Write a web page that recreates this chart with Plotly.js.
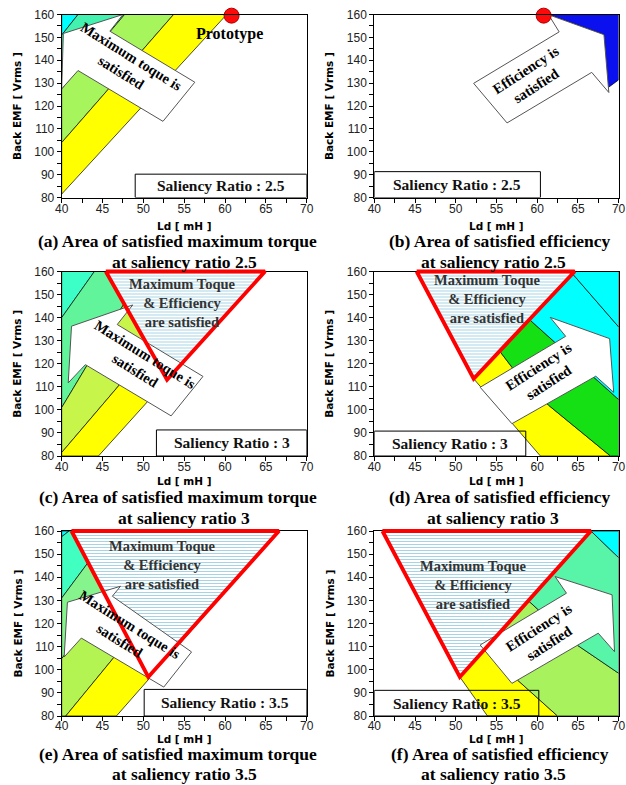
<!DOCTYPE html>
<html><head><meta charset="utf-8">
<script src="https://cdn.plot.ly/plotly-3.0.1.min.js"></script>
<style>html,body{margin:0;padding:0;background:#fff;}#chart{width:626px;height:785px;}</style>
</head><body><div id="chart"></div>
<script>
// ---------------- tick labels & texts ----------------
const xTickVals = [40, 45, 50, 55, 60, 65, 70];
const yTickVals = [80, 90, 100, 110, 120, 130, 140, 150, 160];
const xTitleText = 'Ld [ mH ]';
const yTitleText = 'Back EMF [ Vrms ]';
const captionLine1 = [
  '(a) Area of satisfied maximum torque', '(b) Area of satisfied efficiency',
  '(c) Area of satisfied maximum torque', '(d) Area of satisfied efficiency',
  '(e) Area of satisfied maximum torque', '(f) Area of satisfied efficiency'
];
const captionLine2 = [
  'at saliency ratio 2.5', 'at saliency ratio 2.5', 'at saliency ratio 3',
  'at saliency ratio 3', 'at saliency ratio 3.5', 'at saliency ratio 3.5'
];
const ratioLabels = ['Saliency Ratio : 2.5', 'Saliency Ratio : 2.5', 'Saliency Ratio : 3',
                     'Saliency Ratio : 3', 'Saliency Ratio : 3.5', 'Saliency Ratio : 3.5'];
const torqueArrowLabel = 'Maximum toque is<br>satisfied';
const effArrowLabel = 'Efficiency is<br>satisfied';
const bothLabel = 'Maximum Toque<br>& Efficiency<br>are satisfied';
const prototypeLabel = 'Prototype';

// ---------------- prototype point (Ld, EMF) ----------------
const protoLd = [60.8];
const protoEmf = [159.5];

// ---------------- panel (a) : saliency 2.5, torque ----------------
const a_cyan_x = [40, 40, 42];            const a_cyan_y = [151, 160, 160];
const a_turq_x = [40, 40, 42, 47.7];      const a_turq_y = [127.5, 151, 160, 160];
const a_lgreen_x = [40, 40, 47.7, 53.7];  const a_lgreen_y = [104, 127.5, 160, 160];
const a_yellow_x = [40, 40, 53.7, 60.2];  const a_yellow_y = [81.5, 104, 160, 160];
const a_arrow_x = [40.2, 47.5, 45.9, 56.3, 52.4, 42.0, 40.0];
const a_arrow_y = [151.7, 160, 152.7, 130.4, 113.3, 135.5, 127.5];

// ---------------- panel (b) : saliency 2.5, efficiency ----------------
const b_blue_x = [61.4, 70, 70, 68.7, 68.2];  const b_blue_y = [160, 160, 131.4, 128, 151.2];
const b_arrow_x = [61.4, 68.2, 68.8, 66.7, 56.3, 52.2, 62.7];
const b_arrow_y = [159.9, 151.2, 125.9, 134.7, 112.6, 129.9, 152.4];

// ---------------- panel (c) : saliency 3, torque ----------------
const c_turq_x = [40, 40, 44];               const c_turq_y = [140, 160, 160];
const c_spring_x = [40, 40, 44, 50];         const c_spring_y = [101, 140, 160, 160];
const c_ygreen_x = [40, 40, 50, 58.9];       const c_ygreen_y = [81.5, 101, 160, 160];
const c_yellow_x = [40, 40, 58.9, 64.9, 44.5]; const c_yellow_y = [80, 81.5, 160, 160, 80];
const c_arrow_x = [41.2, 48.7, 46.8, 57.3, 53.4, 42.9, 40.8];
const c_arrow_y = [136.3, 145.5, 137.0, 114.5, 97.4, 119.6, 111.7];
const c_tri_x = [45.4, 64.9, 52.9];          const c_tri_y = [160, 160, 113.1];

// ---------------- panel (d) : saliency 3, efficiency ----------------
const d_yellow_x = [45.9, 49.6, 55.5, 56.9, 61.4, 69, 60.4, 57.1, 52.2];
const d_yellow_y = [160, 160, 125, 118.5, 102, 80, 80, 93.3, 113.5];
const d_green_x = [49.6, 53.3, 59.2, 70, 70, 69, 61.4, 56.9, 55.5];
const d_green_y = [160, 160, 138.7, 104.5, 80, 80, 102, 118.5, 125];
const d_cyan1_x = [53.3, 64.1, 70, 70, 59.2];  const d_cyan1_y = [160, 160, 136, 104.5, 138.7];
const d_cyan2_x = [64.1, 70, 70];              const d_cyan2_y = [160, 160, 136];
const d_arrow_x = [61.6, 68.9, 69.4, 67.2, 56.9, 53.0, 63.5];
const d_arrow_y = [140.1, 130.9, 107.6, 114.6, 94.0, 109.8, 131.9];
const d_tri_x = [45.2, 64.6, 52.2];            const d_tri_y = [160, 160, 113.5];

// ---------------- panel (e) : saliency 3.5, torque ----------------
const e_cyan_x = [40, 40, 40.9];               const e_cyan_y = [157.5, 160, 160];
const e_turq_x = [40, 40, 40.9, 46.1];         const e_turq_y = [131, 157.5, 160, 160];
const e_lgreen_x = [40, 40, 46.1, 52.3];       const e_lgreen_y = [104.8, 131, 160, 160];
const e_ygreen_x = [40, 40.5, 59.1, 52.3, 40]; const e_ygreen_y = [80, 80, 160, 160, 104.8];
const e_yellow_x = [40.5, 46.7, 66.6, 59.1];   const e_yellow_y = [80, 80, 160, 160];
const e_arrow_x = [40.7, 47.2, 46.2, 55.9, 52.5, 42.4, 40.3];
const e_arrow_y = [129.2, 136.1, 131.8, 107.7, 92.5, 113.7, 105.5];
const e_tri_x = [41.2, 66.6, 50.6];            const e_tri_y = [160, 160, 96.9];

// ---------------- panel (f) : saliency 3.5, efficiency ----------------
const f_yellow_x = [50.5, 53.45, 62.5, 53.9];  const f_yellow_y = [96.9, 108.6, 80, 80];
const f_lgreen_x = [53.45, 58.9, 64.9, 70, 70, 62.5]; const f_lgreen_y = [108.6, 129.9, 110.7, 98.5, 80, 80];
const f_teal_x = [58.9, 66.6, 70, 70, 64.9];   const f_teal_y = [129.9, 160, 148.5, 98.5, 110.7];
const f_cyan_x = [66.6, 70, 70];               const f_cyan_y = [160, 160, 148.5];
const f_arrow_x = [62.2, 69.2, 69.5, 67.5, 56.9, 53.0, 63.6];
const f_arrow_y = [140.3, 132.4, 107.8, 115.8, 94.1, 110.7, 133.1];
const f_tri_x = [41.0, 66.6, 50.5];            const f_tri_y = [160, 160, 96.9];

// ---------------- styles ----------------
const COL = {
  cyan: '#00ffff', turqA: '#44f2b0', lgreenA: '#a6f55c', yellow: '#ffff00', blue: '#0a10ee',
  turqC: '#3cffc8', springC: '#62f49a', ygreenC: '#c8f54a', greenD: '#14e014',
  turqE: '#40ffc0', lgreenE: '#86f48c', ygreenE: '#b4f452', tealF: '#58f5a8', lgreenF: '#a8f25e'
};
const W = 626, H = 785;
const colPx = [[61.7, 306.7], [374.3, 618.6]];
const rowPx = [[14.5, 197.5], [271.5, 456], [531, 716]];
const xTitlePx = [226, 481, 739];
const tickStandoff = [-4, -4, -5];
const cap1Px = [241, 497, 754];
const cap2Px = [262, 518, 774];
const yTitlePx = [17, 329];
const cap1XPx = [178, 500];
const cap2XPx = [184, 493];
const OVERPAD = 4;   // px: extra room so the thick red outline is not clipped at the frame

// positions of in-plot texts / boxes (data units)
const boxes = [[49, 70, 80, 90.2], [40, 60.4, 80, 91.3], [51.6, 70, 80, 91.3],
               [40, 58.6, 80, 90.8], [50.1, 70, 80, 91.5], [40, 60.2, 80, 91.1]];
const arrowTextPos = [[47.9, 138], [59.3, 132.5], [49.6, 120.5], [60.8, 115.2], [47.7, 116.3], [60.8, 115]];
const arrowTextAng = [32, -33, 32, -33, 32, -33];
const bothTextPos = [null, null, [54.8, 146.5], [53.9, 148.1], [52.4, 145.5], [52.2, 136.5]];

// ---------------- build ----------------
const traces = [];
function ax(i) { return i === 0 ? '' : String(i + 1); }
function ovx(i) { return String(i + 7); }
function ring(a) { return a.concat([a[0]]); }
function poly(i, xs, ys, color) {
  traces.push({type: 'scatter', mode: 'lines', x: ring(xs), y: ring(ys), fill: 'toself',
    fillcolor: color, line: {color: '#000', width: 0.7}, xaxis: 'x' + ax(i), yaxis: 'y' + ax(i),
    hoverinfo: 'skip', showlegend: false});
}
function hatch(i, xs, ys) {
  traces.push({type: 'scatter', mode: 'lines', x: ring(xs), y: ring(ys), fill: 'toself',
    fillcolor: '#ffffff',
    fillpattern: {shape: '-', size: 3, solidity: 0.34, fgcolor: '#a6d4e4', bgcolor: '#ffffff'},
    line: {width: 0, color: 'rgba(0,0,0,0)'}, xaxis: 'x' + ax(i), yaxis: 'y' + ax(i),
    hoverinfo: 'skip', showlegend: false});
}
function arrow(i, xs, ys) {
  traces.push({type: 'scatter', mode: 'lines', x: ring(xs), y: ring(ys), fill: 'toself',
    fillcolor: '#ffffff', line: {color: '#555', width: 1}, xaxis: 'x' + ax(i), yaxis: 'y' + ax(i),
    hoverinfo: 'skip', showlegend: false});
}
function redTri(i, xs, ys) {
  // drawn on an invisible overlay axis pair with identical data->pixel mapping but a slightly larger clip area
  traces.push({type: 'scatter', mode: 'lines', x: ring(xs), y: ring(ys),
    line: {color: '#ff0000', width: 3.8}, xaxis: 'x' + ovx(i), yaxis: 'y' + ovx(i),
    hoverinfo: 'skip', showlegend: false});
}
function proto(i) {
  traces.push({type: 'scatter', mode: 'markers', x: protoLd, y: protoEmf, cliponaxis: false,
    marker: {size: 15, color: '#ff0a0a', line: {color: '#b00000', width: 1}},
    xaxis: 'x' + ax(i), yaxis: 'y' + ax(i), hoverinfo: 'skip', showlegend: false});
}

// (a)
poly(0, a_cyan_x, a_cyan_y, COL.cyan);
poly(0, a_turq_x, a_turq_y, COL.turqA);
poly(0, a_lgreen_x, a_lgreen_y, COL.lgreenA);
poly(0, a_yellow_x, a_yellow_y, COL.yellow);
arrow(0, a_arrow_x, a_arrow_y);
proto(0);
// (b)
poly(1, b_blue_x, b_blue_y, COL.blue);
arrow(1, b_arrow_x, b_arrow_y);
proto(1);
// (c)
poly(2, c_turq_x, c_turq_y, COL.turqC);
poly(2, c_spring_x, c_spring_y, COL.springC);
poly(2, c_ygreen_x, c_ygreen_y, COL.ygreenC);
poly(2, c_yellow_x, c_yellow_y, COL.yellow);
hatch(2, c_tri_x, c_tri_y);
arrow(2, c_arrow_x, c_arrow_y);
redTri(2, c_tri_x, c_tri_y);
// (d)
poly(3, d_yellow_x, d_yellow_y, COL.yellow);
poly(3, d_green_x, d_green_y, COL.greenD);
poly(3, d_cyan1_x, d_cyan1_y, COL.cyan);
poly(3, d_cyan2_x, d_cyan2_y, COL.cyan);
hatch(3, d_tri_x, d_tri_y);
arrow(3, d_arrow_x, d_arrow_y);
redTri(3, d_tri_x, d_tri_y);
// (e)
poly(4, e_cyan_x, e_cyan_y, COL.cyan);
poly(4, e_turq_x, e_turq_y, COL.turqE);
poly(4, e_lgreen_x, e_lgreen_y, COL.lgreenE);
poly(4, e_ygreen_x, e_ygreen_y, COL.ygreenE);
poly(4, e_yellow_x, e_yellow_y, COL.yellow);
hatch(4, e_tri_x, e_tri_y);
arrow(4, e_arrow_x, e_arrow_y);
redTri(4, e_tri_x, e_tri_y);
// (f)
poly(5, f_yellow_x, f_yellow_y, COL.yellow);
poly(5, f_lgreen_x, f_lgreen_y, COL.lgreenF);
poly(5, f_teal_x, f_teal_y, COL.tealF);
poly(5, f_cyan_x, f_cyan_y, COL.cyan);
hatch(5, f_tri_x, f_tri_y);
arrow(5, f_arrow_x, f_arrow_y);
redTri(5, f_tri_x, f_tri_y);

const layout = {
  width: W, height: H, margin: {l: 0, r: 0, t: 0, b: 0},
  paper_bgcolor: '#ffffff', plot_bgcolor: 'rgba(0,0,0,0)', showlegend: false,
  annotations: [], shapes: []
};
const tickFont = {family: 'Liberation Sans, Arial, sans-serif', size: 12, color: '#222'};
const serif = 'Liberation Serif, Times New Roman, serif';
const titleFont = {family: 'DejaVu Sans, Verdana, sans-serif', size: 10.5, color: '#000'};

for (let i = 0; i < 6; i++) {
  const c = i % 2, r = Math.floor(i / 2);
  const xd = [colPx[c][0] / W, colPx[c][1] / W];
  const yd = [1 - rowPx[r][1] / H, 1 - rowPx[r][0] / H];
  layout['xaxis' + ax(i)] = {
    domain: xd, range: [40, 70], anchor: 'y' + ax(i), tickmode: 'array', tickvals: xTickVals,
    ticks: 'outside', ticklen: 4, tickwidth: 1, tickcolor: '#000', showline: true, mirror: true,
    linecolor: '#000', linewidth: 1, showgrid: false, zeroline: false, tickfont: tickFont,
    ticklabelstandoff: tickStandoff[r],
    minor: {tickmode: 'linear', tick0: 40, dtick: 2.5, ticks: 'outside', ticklen: 4, tickcolor: '#000', showgrid: false},
    fixedrange: true
  };
  layout['yaxis' + ax(i)] = {
    domain: yd, range: [80, 160], anchor: 'x' + ax(i), tickmode: 'array', tickvals: yTickVals,
    ticks: 'outside', ticklen: 4, tickwidth: 1, tickcolor: '#000', showline: true, mirror: true,
    linecolor: '#000', linewidth: 1, showgrid: false, zeroline: false, tickfont: tickFont,
    minor: {tickmode: 'linear', tick0: 80, dtick: 5, ticks: 'outside', ticklen: 4, tickcolor: '#000', showgrid: false},
    fixedrange: true
  };
  // overlay axes (same mapping, padded clip region)
  const ux = 30 / (colPx[c][1] - colPx[c][0]), uy = 80 / (rowPx[r][1] - rowPx[r][0]);
  layout['xaxis' + ovx(i)] = {
    domain: [(colPx[c][0] - OVERPAD) / W, (colPx[c][1] + OVERPAD) / W],
    range: [40 - OVERPAD * ux, 70 + OVERPAD * ux], anchor: 'y' + ovx(i), visible: false, fixedrange: true
  };
  layout['yaxis' + ovx(i)] = {
    domain: [1 - (rowPx[r][1] + OVERPAD) / H, 1 - (rowPx[r][0] - OVERPAD) / H],
    range: [80 - OVERPAD * uy, 160 + OVERPAD * uy], anchor: 'x' + ovx(i), visible: false, fixedrange: true
  };
  // axis titles
  layout.annotations.push({xref: 'paper', yref: 'paper', x: (colPx[c][0] + colPx[c][1]) / 2 / W,
    y: 1 - xTitlePx[r] / H, text: '<b>' + xTitleText + '</b>', showarrow: false, font: titleFont,
    xanchor: 'center', yanchor: 'middle', borderpad: 0});
  layout.annotations.push({xref: 'paper', yref: 'paper', x: yTitlePx[c] / W,
    y: 1 - (rowPx[r][0] + rowPx[r][1]) / 2 / H, text: '<b>' + yTitleText + '</b>', showarrow: false,
    font: titleFont, textangle: -90, xanchor: 'center', yanchor: 'middle'});
  // caption (two lines)
  layout.annotations.push({xref: 'paper', yref: 'paper', x: cap1XPx[c] / W, y: 1 - cap1Px[r] / H,
    text: '<b>' + captionLine1[i] + '</b>', showarrow: false, borderpad: 0,
    font: {family: serif, size: 17.5, color: '#000'}, xanchor: 'center', yanchor: 'middle'});
  layout.annotations.push({xref: 'paper', yref: 'paper', x: cap2XPx[c] / W, y: 1 - cap2Px[r] / H,
    text: '<b>' + captionLine2[i] + '</b>', showarrow: false, borderpad: 0,
    font: {family: serif, size: 17.5, color: '#000'}, xanchor: 'center', yanchor: 'middle'});
  // saliency box
  const b = boxes[i];
  layout.shapes.push({type: 'rect', xref: 'x' + ax(i), yref: 'y' + ax(i), x0: b[0], x1: b[1], y0: b[2], y1: b[3],
    line: {color: '#000', width: 1}, fillcolor: 'rgba(0,0,0,0)', layer: 'above'});
  layout.annotations.push({xref: 'x' + ax(i), yref: 'y' + ax(i), x: (b[0] + b[1]) / 2, y: (b[2] + b[3]) / 2,
    text: '<b>' + ratioLabels[i] + '</b>', showarrow: false, font: {family: serif, size: 15.5, color: '#111'},
    xanchor: 'center', yanchor: 'middle'});
  // arrow text
  layout.annotations.push({xref: 'x' + ax(i), yref: 'y' + ax(i), x: arrowTextPos[i][0], y: arrowTextPos[i][1],
    text: '<b>' + (c === 0 ? torqueArrowLabel : effArrowLabel) + '</b>', showarrow: false,
    textangle: arrowTextAng[i], font: {family: serif, size: 14.5, color: '#000'}, align: 'center'});
  // both satisfied text
  if (bothTextPos[i]) {
    layout.annotations.push({xref: 'x' + ax(i), yref: 'y' + ax(i), x: bothTextPos[i][0], y: bothTextPos[i][1],
      text: '<b>' + bothLabel + '</b>', showarrow: false, align: 'center',
      font: {family: serif, size: 14.5, color: '#333'}});
  }
}
layout.annotations.push({xref: 'x', yref: 'y', x: 60.6, y: 151.6, text: '<b>' + prototypeLabel + '</b>',
  showarrow: false, font: {family: serif, size: 16, color: '#000'}});

Plotly.newPlot('chart', traces, layout, {staticPlot: true, displayModeBar: false});
</script></body></html>
